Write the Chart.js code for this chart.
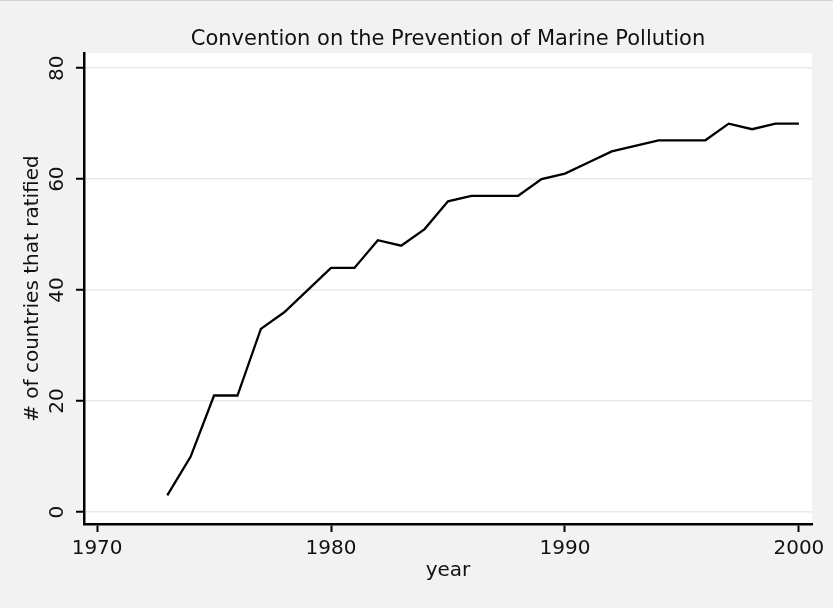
<!DOCTYPE html>
<html>
<head>
<meta charset="utf-8">
<script src="https://cdn.jsdelivr.net/npm/chart.js@4/dist/chart.umd.min.js"></script>
<style>
  html, body { margin: 0; padding: 0; background: #f2f2f2; }
  #wrap { width: 833px; height: 608px; position: relative; }
</style>
</head>
<body>
<div id="wrap"><canvas id="chart"></canvas></div>
<script>
// --- data ---
const years = [1973, 1974, 1975, 1976, 1977, 1978, 1979, 1980, 1981, 1982, 1983, 1984,
               1985, 1986, 1987, 1988, 1989, 1990, 1991, 1992, 1993, 1994, 1995, 1996,
               1997, 1998, 1999, 2000];
const ratified = [3, 10, 21, 21, 33, 36, 40, 44, 44, 49, 48, 51,
                  56, 57, 57, 57, 60, 61, 63, 65, 66, 67, 67, 67,
                  70, 69, 70, 70];
const xTicks = [1970, 1980, 1990, 2000];
const yTicks = [0, 20, 40, 60, 80];

const FONT = "'DejaVu Sans', sans-serif";

/* --- background: grey page, white plot region --- */
const bgPlugin = {
    id: 'bg',
    beforeDraw(chart) {
        const { ctx, chartArea: a, width, height } = chart;
        ctx.save();
        ctx.fillStyle = '#f2f2f2';
        ctx.fillRect(0, 0, width, height);
        ctx.fillStyle = '#d4d4d4';
        ctx.fillRect(0, 0, width, 1);
        ctx.fillStyle = '#ffffff';
        ctx.fillRect(a.left, a.top, a.right - a.left, a.bottom - a.top);
        ctx.restore();
    }
};

new Chart(document.getElementById('chart').getContext('2d'), {
    type: 'line',
    data: {
        datasets: [{
            data: years.map((y, i) => ({ x: y, y: ratified[i] })),
            borderColor: '#000000',
            borderWidth: 2.3,
            pointRadius: 0,
            tension: 0,
            fill: false
        }]
    },
    options: {
        responsive: true,
        maintainAspectRatio: false,
        animation: false,
        devicePixelRatio: 1,
        layout: { padding: { left: 0, right: 21, top: 0, bottom: 0 } },
        plugins: {
            legend: { display: false },
            tooltip: { enabled: false },
            title: {
                display: true,
                fullSize: false,
                text: 'Convention on the Prevention of Marine Pollution',
                color: '#111111',
                font: { family: FONT, size: 21, weight: 'normal', lineHeight: 1.2 },
                padding: { top: 27, bottom: 1 }
            }
        },
        scales: {
            x: {
                type: 'linear',
                min: 1969.44,
                max: 2000.56,
                afterBuildTicks: (s) => { s.ticks = xTicks.map(v => ({ value: v })); },
                afterFit: (s) => { s.height = 84; },
                ticks: {
                    color: '#111111',
                    font: { family: FONT, size: 20 },
                    padding: 5,
                    maxRotation: 0,
                    callback: (v) => String(v)
                },
                grid: {
                    drawOnChartArea: false,
                    drawTicks: true,
                    tickLength: 8,
                    tickColor: '#000000',
                    tickWidth: 2
                },
                border: { color: '#000000', width: 2.5 },
                title: {
                    display: true,
                    text: 'year',
                    color: '#111111',
                    font: { family: FONT, size: 20, lineHeight: 1.2 },
                    padding: { top: 0, bottom: 25 }
                }
            },
            y: {
                type: 'linear',
                min: -2.16,
                max: 82.7,
                afterBuildTicks: (s) => { s.ticks = yTicks.map(v => ({ value: v })); },
                afterFit: (s) => { s.width = 84; },
                ticks: {
                    color: '#111111',
                    font: { family: FONT, size: 20 },
                    padding: 5,
                    minRotation: 90,
                    maxRotation: 90,
                    crossAlign: 'center'
                },
                grid: {
                    color: '#e9e9e9',
                    lineWidth: 1.5,
                    drawTicks: true,
                    tickLength: 8,
                    tickColor: '#000000',
                    tickWidth: 2
                },
                border: { color: '#000000', width: 2.5 },
                title: {
                    display: true,
                    text: '# of countries that ratified',
                    color: '#111111',
                    font: { family: FONT, size: 20, lineHeight: 1.2 },
                    padding: { top: 21, bottom: 0 }
                }
            }
        }
    },
    plugins: [bgPlugin]
});
</script>
</body>
</html>
